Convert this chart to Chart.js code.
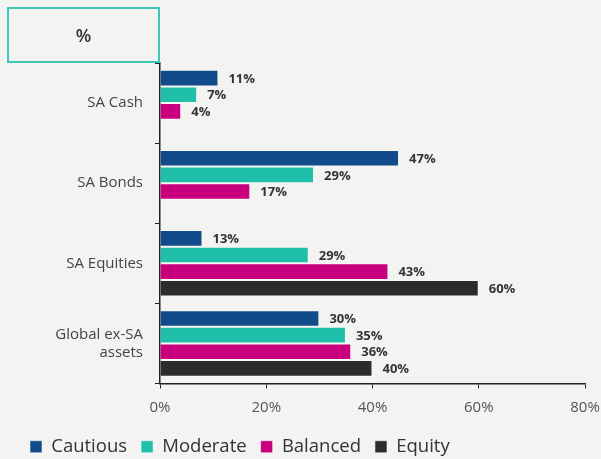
<!DOCTYPE html>
<html>
<head>
<meta charset="utf-8">
<script src="https://cdn.jsdelivr.net/npm/chart.js@4"></script>
<style>
  html, body { margin: 0; padding: 0; background: #f3f3f1; }
  #wrap { position: relative; width: 601px; height: 459px; }
  #unit {
    position: absolute; left: 7px; top: 7px; width: 149px; height: 52px;
    border: 2px solid #3cc8b4; font: 600 18px "Open Sans", sans-serif; color: #333;
    display: flex; align-items: center; justify-content: center;
  }
</style>
</head>
<body>
<div id="wrap">
  <canvas id="myChart" width="601" height="459"></canvas>
  <div id="unit">%</div>
</div>
<script>
const ctx = document.getElementById("myChart").getContext("2d");

const categorii = ["SA Cash", "SA Bonds", "SA Equities", ["Global ex-SA", "assets"]];
const xTicks = ["0%", "20%", "40%", "60%", "80%"];

// bar lengths as drawn, and the labels printed next to them
const cautious = [11, 45, 8, 30];
const moderate = [7, 29, 28, 35];
const balanced = [4, 17, 43, 36];
const equity = [null, null, 60, 40];

const cautiousLbl = ["11%", "47%", "13%", "30%"];
const moderateLbl = ["7%", "29%", "29%", "35%"];
const balancedLbl = ["4%", "17%", "43%", "36%"];
const equityLbl = ["", "", "60%", "40%"];

const valueLabels = {
  id: "valueLabels",
  afterDatasetsDraw(chart) {
    const c = chart.ctx;
    c.save();
    c.font = "bold 13px 'Open Sans', sans-serif";
    c.fillStyle = "#333";
    c.textAlign = "left";
    c.textBaseline = "middle";
    chart.data.datasets.forEach((ds, i) => {
      chart.getDatasetMeta(i).data.forEach((bar, j) => {
        if (ds.data[j] == null) return;
        c.fillText(ds.labels[j], bar.x + 10, bar.y + 1);
      });
    });
    c.restore();
  },
};

const myChart = new Chart(ctx, {
  type: "bar",
  data: {
    labels: categorii,
    datasets: [
      { label: "Cautious", data: cautious, labels: cautiousLbl, backgroundColor: "#124b8a" },
      { label: "Moderate", data: moderate, labels: moderateLbl, backgroundColor: "#20bfaa" },
      { label: "Balanced", data: balanced, labels: balancedLbl, backgroundColor: "#c8007d" },
      { label: "Equity", data: equity, labels: equityLbl, backgroundColor: "#2b2c2e" },
    ],
  },
  options: {
    indexAxis: "y",
    responsive: false,
    animation: false,
    categoryPercentage: 0.83,
    barPercentage: 1,
    borderWidth: 1,
    borderColor: "rgba(255,255,255,0.5)",
    layout: { padding: { top: 63, left: 16, right: 16, bottom: -7 } },
    scales: {
      x: {
        min: 0,
        max: 80,
        afterFit: (s) => {
          s.height = 40;
          s.paddingLeft = 0;
          s.paddingRight = 0;
        },
        ticks: {
          stepSize: 20,
          color: "#555",
          padding: 10,
          font: { family: "'Open Sans', sans-serif", size: 15 },
          callback: (v, i) => xTicks[i],
        },
        grid: { drawOnChartArea: false, tickLength: 5, color: "#222" },
        border: { color: "#222", width: 1.5 },
      },
      y: {
        afterFit: (s) => { s.width = 144; },
        ticks: {
          color: "#444",
          padding: 12,
          font: { family: "'Open Sans', sans-serif", size: 15 },
        },
        grid: { drawOnChartArea: false, tickLength: 5, color: "#222" },
        border: { color: "#222", width: 1.5 },
      },
    },
    plugins: {
      tooltip: { enabled: false },
      legend: {
        position: "bottom",
        align: "start",
        labels: {
          boxWidth: 12,
          boxHeight: 12,
          padding: 14,
          color: "#333",
          font: { family: "'Open Sans', sans-serif", size: 18.5 },
        },
      },
    },
  },
  plugins: [valueLabels],
});
</script>
</body>
</html>
